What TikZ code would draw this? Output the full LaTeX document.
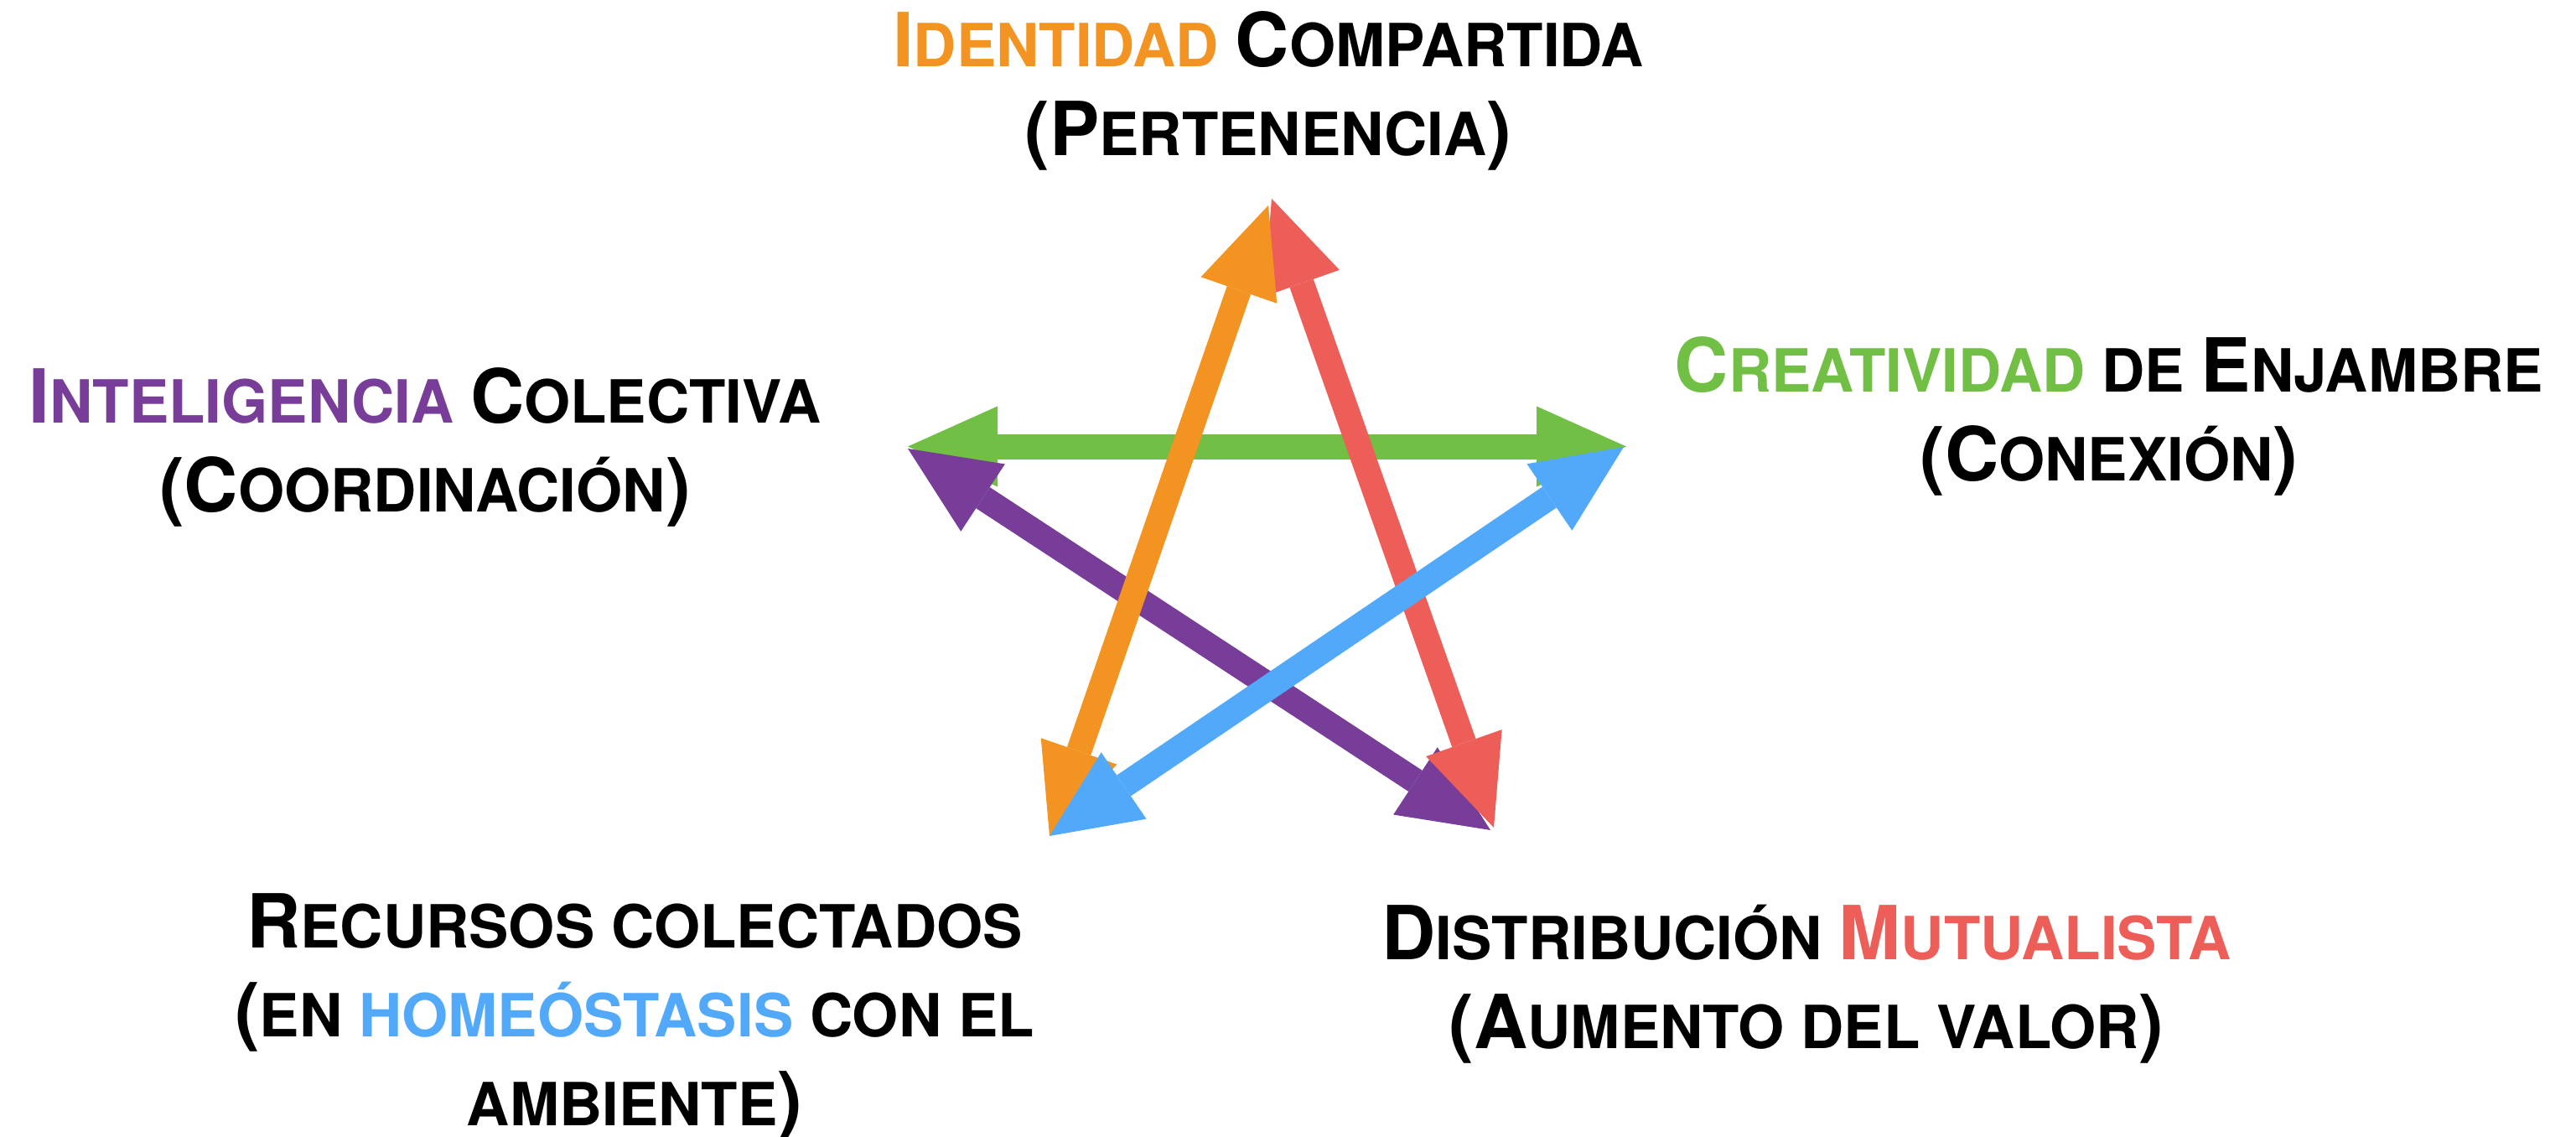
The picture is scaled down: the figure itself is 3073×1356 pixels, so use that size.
\documentclass[tikz,border=0pt]{standalone}
\usepackage{fontspec}
\setmainfont{TeX Gyre Heros}
\usetikzlibrary{arrows.meta}
\definecolor{cOr}{HTML}{F39321}
\definecolor{cRd}{HTML}{ED5E59}
\definecolor{cGn}{HTML}{71BF44}
\definecolor{cPu}{HTML}{773D98}
\definecolor{cBl}{HTML}{52A9F9}
\newcommand\BG[1]{{\fontsize{89}{106}\selectfont #1}}
\begin{document}
\begin{tikzpicture}[x=1pt,y=-1pt,
  tipT/.tip={Triangle[length=107pt,width=96pt,line width=0pt]},
  star/.style={line width=30pt, tipT-tipT},
  lbl/.style={anchor=base, align=center, inner sep=0pt,
    font=\bfseries\fontsize{71}{106}\selectfont}]
\useasboundingbox (0,0) rectangle (3073,1356);
% arrow end points
\coordinate (oT) at (1513,245);  \coordinate (oB) at (1252,997);
\coordinate (rT) at (1517,237);  \coordinate (rB) at (1782,987);
\coordinate (gL) at (1083,532.5); \coordinate (gR) at (1940,532.5);
\coordinate (pL) at (1083,535);  \coordinate (pB) at (1778,990);
\coordinate (bR) at (1937,533);  \coordinate (bB) at (1252,997);
% arrows (drawing order gives the overlaps)
\draw[star, cGn] (gL) -- (gR);
\draw[star, cPu] (pL) -- (pB);
\draw[star, cRd] (rT) -- (rB);
\draw[star, cOr] (oT) -- (oB);
\draw[star, cBl] (bR) -- (bB);
% labels (anchor base = baseline of the last line)
\node[lbl] (top) at (1513,186)
  {{\color{cOr}\BG{I}DENTIDAD} \BG{C}OMPARTIDA\\\BG{(P}ERTENENCIA\BG{)}};
\node[lbl] (left) at (507,610)
  {{\color{cPu}\BG{I}NTELIGENCIA} \BG{C}OLECTIVA\\\BG{(C}OORDINACIÓN\BG{)}};
\node[lbl] (right) at (2516,573)
  {{\color{cGn}\BG{C}REATIVIDAD} DE \BG{E}NJAMBRE\\\BG{(C}ONEXIÓN\BG{)}};
\node[lbl] (botl) at (757,1342)
  {\BG{R}ECURSOS COLECTADOS\\\BG{(}EN {\color{cBl}HOMEÓSTASIS} CON EL\\AMBIENTE\BG{)}};
\node[lbl] (botr) at (2155,1250)
  {\BG{D}ISTRIBUCIÓN {\color{cRd}\BG{M}UTUALISTA}\\\BG{(A}UMENTO DEL VALOR\BG{)}};
\end{tikzpicture}
\end{document}
